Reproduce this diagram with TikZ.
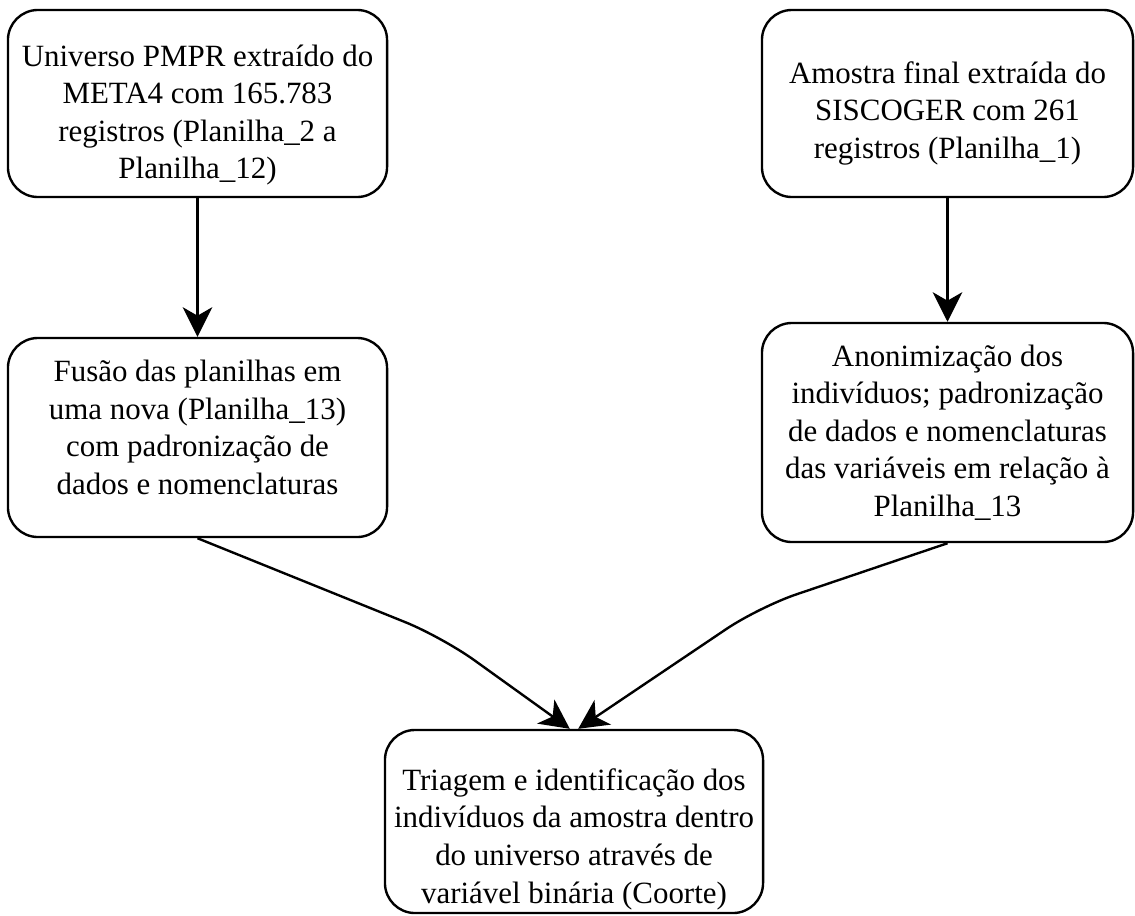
\documentclass[tikz,border=0pt]{standalone}
\usepackage{fontspec}
\setmainfont{Liberation Serif}
\usetikzlibrary{arrows.meta,positioning}

\begin{document}
\begin{tikzpicture}[x=0.025cm,y=-0.025cm,
  cohbox/.style={draw,line width=1.7pt,rounded corners=0.75cm,align=center,
    font=\rmfamily\fontsize{22}{26.7}\selectfont,inner sep=2pt},
  cohflow/.style={-{Stealth[length=21pt,width=21pt,inset=6pt]},line width=1.7pt}
]
  \useasboundingbox (0,0) rectangle (1135,915);

  % Source spreadsheets
  \node[cohbox,minimum width=9.475cm,minimum height=4.675cm,text height=112pt] (univ) at (197.5,103.5)
    {Universo PMPR extraído do\\META4 com 165.783\\registros (Planilha\_2 a\\Planilha\_12)};
  \node[cohbox,minimum width=9.275cm,minimum height=4.675cm,text height=83pt] (amostra) at (947.5,103.5)
    {Amostra final extraída do\\SISCOGER com 261\\registros (Planilha\_1)};

  % Preparation steps
  \node[cohbox,minimum width=9.475cm,minimum height=4.975cm,text height=81pt] (fusao) at (197.5,437.5)
    {Fusão das planilhas em\\uma nova (Planilha\_13)\\com padronização de\\dados e nomenclaturas};
  \node[cohbox,minimum width=9.275cm,minimum height=5.475cm] (anonim) at (947.5,432.5)
    {Anonimização dos\\indivíduos; padronização\\de dados e nomenclaturas\\das variáveis em relação à\\Planilha\_13};

  % Final step
  \node[cohbox,minimum width=9.45cm,minimum height=4.575cm,text height=116pt,text depth=-10pt] (triagem) at (574,821.5)
    {Triagem e identificação dos\\indivíduos da amostra dentro\\do universo através de\\variável binária (Coorte)};

  % Bends of the merging arrows
  \coordinate (lbend) at (442,637);
  \coordinate (rbend) at (759,607);

  % Arrows
  \draw[cohflow] (univ.south) -- (fusao.north);
  \draw[cohflow] (amostra.south) -- (anonim.north);
  \draw[cohflow,rounded corners=28pt] (fusao.south) -- (lbend) -- ([xshift=-3pt]triagem.north);
  \draw[cohflow,rounded corners=28pt] (anonim.south) -- (rbend) -- ([xshift=3pt]triagem.north);
\end{tikzpicture}
\end{document}
